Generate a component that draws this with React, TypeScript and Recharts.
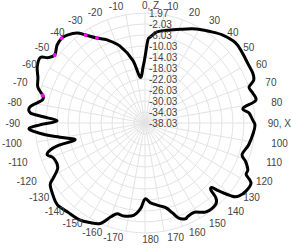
import React from "react";
import { RadarChart, Radar, PolarGrid, PolarAngleAxis, PolarRadiusAxis } from "recharts";

// pattern, angle in degrees (0 = Z, 90 = X), gain in dB
const ANGLES = [
  -177, -173, -167, -163, -160, -156, -151, -146, -139, -133, -128, -123, -121, -117, -111,
  -108, -106, -104.5, -103.5, -99.5, -97, -93, -91, -88.7, -86.5, -85, -82, -77.5, -75,
  -71.5, -67, -62.5, -58, -56, -53, -48.5, -44.5, -41.5, -37, -34, -29.5, -24.5, -18, -11,
  -6, -2, 0, 2, 3.5, 7.5, 13.5, 20.5, 28.5, 35, 41.5, 48.5, 54.5, 60, 65, 68.5, 71, 74.5,
  78.5, 81.5, 84.5, 88.5, 91, 95, 102, 108, 111, 114.5, 117, 119.5, 124, 128, 130, 132.5,
  134, 135.5, 136.5, 139, 145.5, 151, 155.5, 157, 160.5, 163, 166, 170, 176, 180,
];
const GAIN = [
  -6.8, -4.2, -3.3, -3.5, -1.7, 2.0, 3.4, 4.5, 4.9, 5.6, 4.5, 3.1, 0.9, -2.4, -2.4,
  -0.6, -2.0, -5.3, -11.9, -6.7, -2.0, 4.2, 0.2, -6.0, -0.9, 3.8, 4.2, 0.3, 0.5,
  3.1, 4.3, 6.2, 6.9, 4.5, 3.1, 4.7, 5.2, 4.7, 3.0, 0.6, -2.5, -4.8, -8.6, -14.8,
  -21.3, -17.7, -14.0, -7.8, -6.7, -4.6, -3.3, -1.6, 0.9, 2.7, 4.7, 6.0, 5.6, 5.2, 5.2, 4.5, 2.0, 2.7,
  3.1, -2.0, 0.0, 1.2, 2.0, 1.6, 0.5, -0.9, 1.2, 3.1, 3.3, 6.3, 6.3, 5.2, 3.4, -1.3,
  -4.2, -3.8, -0.6, 1.2, 1.2, -0.9, -0.6, -0.2, -1.3, -3.8, -6.2, -7.4, -8.9, -10.4,
];
// points drawn with a magenta marker
const MARKED = [-75, -53, -44.5, -34, -29.5];

const ANGLE_TICKS = [
  -170, -160, -150, -140, -130, -120, -110, -100, -90, -80, -70, -60, -50, -40, -30, -20, -10,
  0, 10, 20, 30, 40, 50, 60, 70, 80, 90, 100, 110, 120, 130, 140, 150, 160, 170, 180,
];
const RADIUS_TICKS = [-38.03, -34.03, -30.03, -26.03, -22.03, -18.03, -14.03, -10.03, -6.03, -2.03, 1.97];

const data = ANGLES.map((a, i) => ({ angle: a, gain: GAIN[i], mark: MARKED.includes(a) }));

const CX = 145;
const CY = 123;
const R = 110;
const FONT = "'Liberation Sans', Arial, sans-serif";

function angleLabel(v: number) {
  if (v === 0) return "0, Z";
  if (v === 90) return "90, X";
  return String(v);
}

function AngleTick(props: any) {
  const v = props.payload.value;
  const label = angleLabel(v);
  const rad = (v * Math.PI) / 180;
  const s = Math.sin(rad);
  const c = Math.cos(rad);
  let x = 150.5;
  let anchor = "middle";
  if (s > 0.05) {
    // right side labels end at the chart edge at most
    const w = label.length * 5.6;
    x = Math.min(CX + 128 * s + w, 291);
    anchor = "end";
  } else if (s < -0.05) {
    x = CX + 125 * s;
    anchor = "end";
  }
  const y = CY - (c > 0 ? 118 : 116) * c;
  return (
    <text x={x} y={y} textAnchor={anchor} dominantBaseline="central" fontSize={10} fill="#444" fontFamily={FONT}>
      {label}
    </text>
  );
}

function RadiusTick(props: any) {
  return (
    <text x={props.x + 4} y={props.y} textAnchor="start" dominantBaseline="central" fontSize={10} fill="#444" fontFamily={FONT}>
      {Number(props.payload.value).toFixed(2)}
    </text>
  );
}

function MarkDot(props: any) {
  const p = props.payload?.payload ?? props.payload;
  if (!p || !p.mark) return <g key={props.key} />;
  return <circle key={props.key} cx={props.cx} cy={props.cy} r={2} fill="#ff00ff" />;
}

// closed catmull-rom path through the points recharts computed
function SmoothShape(props: any) {
  const pts = props.points || [];
  const n = pts.length;
  if (n < 3) return null;
  let d = `M${pts[0].x},${pts[0].y}`;
  for (let i = 0; i < n; i++) {
    const p0 = pts[(i - 1 + n) % n];
    const p1 = pts[i];
    const p2 = pts[(i + 1) % n];
    const p3 = pts[(i + 2) % n];
    const c1x = p1.x + (p2.x - p0.x) / 6;
    const c1y = p1.y + (p2.y - p0.y) / 6;
    const c2x = p2.x - (p3.x - p1.x) / 6;
    const c2y = p2.y - (p3.y - p1.y) / 6;
    d += ` C${c1x},${c1y} ${c2x},${c2y} ${p2.x},${p2.y}`;
  }
  return <path d={d + "Z"} fill="none" stroke="#000" strokeWidth={3} strokeLinejoin="round" />;
}

export default function App() {
  return (
    <div style={{ position: "absolute", left: 0, top: 0, background: "#fff" }}>
      <RadarChart
        width={292}
        height={250}
        data={data}
        cx={CX}
        cy={CY}
        outerRadius={R}
        startAngle={-90}
        endAngle={-450}
        margin={{ top: 0, right: 0, bottom: 0, left: 0 }}
      >
        <PolarGrid gridType="circle" stroke="#e3e3e3" />
        <PolarAngleAxis
          dataKey="angle"
          type="number"
          domain={[-180, 180]}
          ticks={ANGLE_TICKS}
          tick={<AngleTick />}
          tickLine={false}
          axisLine={false}
        />
        <PolarRadiusAxis
          angle={90}
          type="number"
          domain={[-38.03, 1.97]}
          ticks={RADIUS_TICKS}
          allowDataOverflow
          tick={<RadiusTick />}
          axisLine={false}
          tickLine={false}
        />
        <Radar
          dataKey="gain"
          stroke="#000"
          strokeWidth={3}
          fill="none"
          shape={<SmoothShape />}
          dot={<MarkDot />}
          isAnimationActive={false}
        />
      </RadarChart>
    </div>
  );
}
